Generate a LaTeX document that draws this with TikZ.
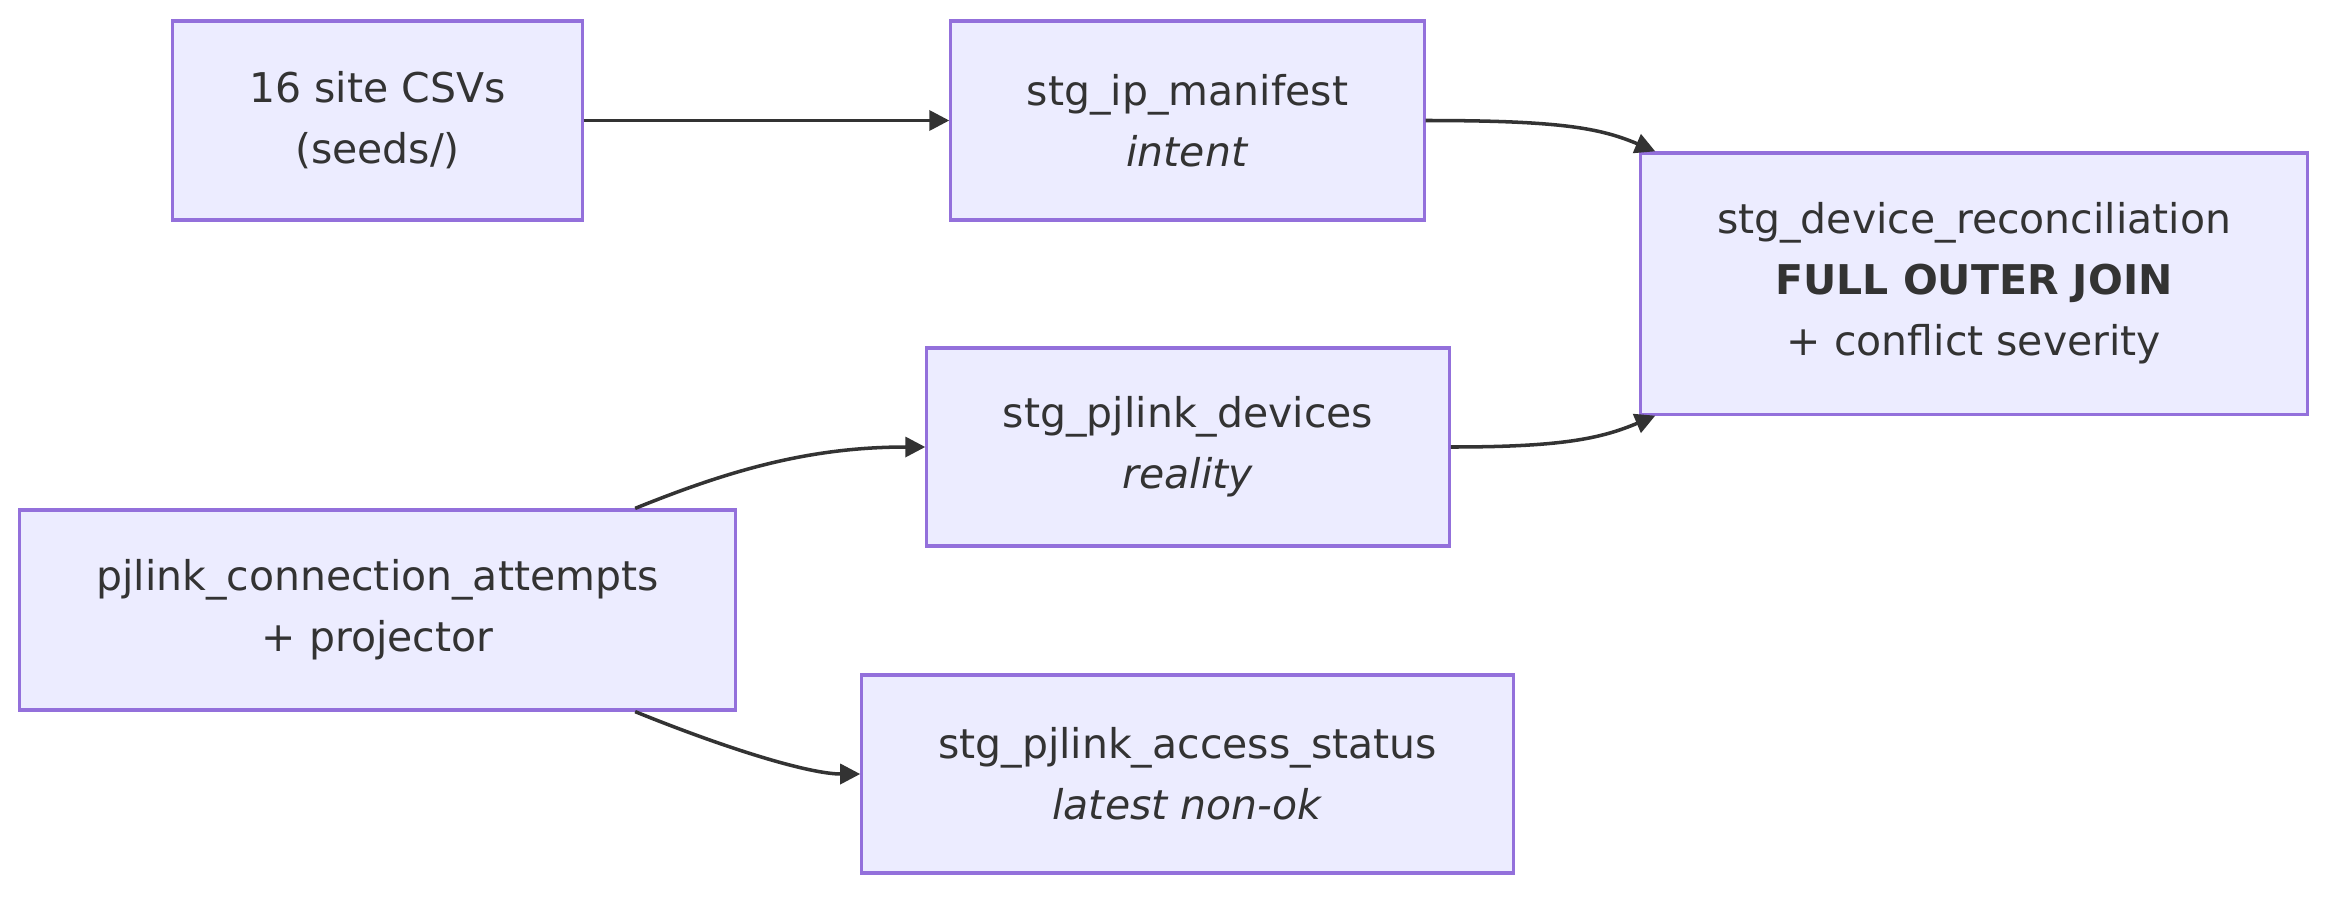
\documentclass[tikz,border=0pt]{standalone}
\usepackage{fontspec}
\setmainfont{DejaVu Sans}
\usetikzlibrary{arrows.meta}
\definecolor{nodefill}{HTML}{ECECFF}
\definecolor{nodeline}{HTML}{9370DB}
\definecolor{ink}{HTML}{333333}
\begin{document}
\begin{tikzpicture}[x=0.01cm,y=-0.01cm,
  box/.style={draw=nodeline, fill=nodefill, line width=0.9pt, text=ink, align=center,
    font=\fontsize{11.65}{17.4}\selectfont, inner sep=0pt},
  link/.style={draw=ink, line width=1pt, -{Triangle[length=0.2cm,width=0.2cm]}}]
\useasboundingbox[fill=white] (0,0) rectangle (2352,906);
\node[box, minimum width=4.09cm, minimum height=1.99cm] (csv) at (377.5,120.5) {16 site CSVs\\(seeds/)};
\node[box, minimum width=4.73cm, minimum height=1.99cm] (manifest) at (1187.5,120.5) {stg\_ip\_manifest\\\textit{intent}};
\node[box, minimum width=6.66cm, minimum height=2.61cm] (rec) at (1974,283.5) {stg\_device\_reconciliation\\\textbf{FULL OUTER JOIN}\\+ conflict severity};
\node[box, minimum width=5.22cm, minimum height=1.98cm] (devices) at (1188,447) {stg\_pjlink\_devices\\\textit{reality}};
\node[box, minimum width=7.15cm, minimum height=2.00cm] (attempts) at (377.5,610) {pjlink\_connection\_attempts\\+ projector};
\node[box, minimum width=6.51cm, minimum height=1.98cm] (access) at (1187.5,774) {stg\_pjlink\_access\_status\\\textit{latest non-ok}};
\draw[link] (csv.east) -- (manifest.west);
\draw[link] (manifest.east) .. controls (1560,120.5) and (1600,128) .. ([xshift=0.16cm]rec.north west);
\draw[link] (devices.east) .. controls (1560,447) and (1600,439) .. ([xshift=0.16cm]rec.south west);
\draw[link] ([xshift=2.575cm]attempts.north) .. controls (730,470) and (810,447) .. (devices.west);
\draw[link] ([xshift=2.575cm]attempts.south) .. controls (730,750) and (810,774) .. (access.west);
\end{tikzpicture}
\end{document}
